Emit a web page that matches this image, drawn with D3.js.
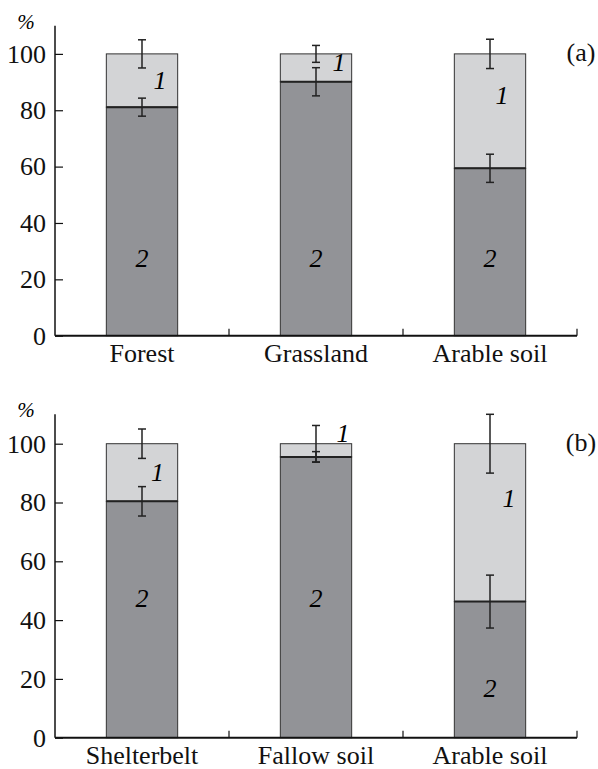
<!DOCTYPE html>
<html>
<head>
<meta charset="utf-8">
<script src="https://cdn.jsdelivr.net/npm/d3@7"></script>
<style>
  body { margin: 0; background: #fff; }
</style>
</head>
<body>
<div id="chart"></div>
<script>
// panel (a)
const catsA = ['Forest', 'Grassland', 'Arable soil'];
const darkA = [81.1, 90.1, 59.4];      // fraction 2
const darkErrA = [3.2, 5, 5];
const lightErrA = [5, 3, 5.2];         // fraction 1 (top at 100)
const lab1A = [90.7, 97.1, 85.4];
const lab2A = [27.6, 27.6, 27.6];

// panel (b)
const catsB = ['Shelterbelt', 'Fallow soil', 'Arable soil'];
const darkB = [80.4, 95.5, 46.3];
const darkErrB = [5, 1.8, 9];
const lightErrB = [5, 6.2, 10];
const lab1B = [90.5, 103.7, 81.4];
const lab2B = [47.4, 47.5, 17.1];

const W = 598, H = 769;
const serif = 'Liberation Serif';
const svg = d3.select('#chart').append('svg')
    .attr('width', W)
    .attr('height', H)
    .attr('font-family', serif);

const darkColor = '#929397', lightColor = '#d3d4d6';

function panel(cats, dark, darkErr, lightErr, lab1, lab2, lab1dx, top, bottom, tag) {
  const x = d3.scaleBand()
      .domain(cats)
      .range([55, 577])
      .paddingInner(0.59)
      .paddingOuter(0.295);

  const y = d3.scaleLinear()
      .domain([0, 110])
      .range([bottom, top]);

  const g = svg.append('g');

  // light part (fraction 1), always up to 100
  g.selectAll('rect.light').data(cats)
    .enter().append('rect')
      .attr('class', 'light')
      .attr('x', d => x(d))
      .attr('width', x.bandwidth())
      .attr('y', y(100))
      .attr('height', (d, i) => y(dark[i]) - y(100))
      .attr('fill', lightColor)
      .attr('stroke', '#333')
      .attr('stroke-width', 1);

  g.selectAll('rect.dark').data(cats)
    .enter().append('rect')
      .attr('class', 'dark')
      .attr('x', d => x(d))
      .attr('width', x.bandwidth())
      .attr('y', (d, i) => y(dark[i]))
      .attr('height', (d, i) => y(0) - y(dark[i]))
      .attr('fill', darkColor)
      .attr('stroke', '#333')
      .attr('stroke-width', 1);

  // boundary line between the two fractions
  g.selectAll('line.sep').data(cats)
    .enter().append('line')
      .attr('x1', d => x(d))
      .attr('x2', d => x(d) + x.bandwidth())
      .attr('y1', (d, i) => y(dark[i]))
      .attr('y2', (d, i) => y(dark[i]))
      .attr('stroke', '#222')
      .attr('stroke-width', 2);

  // error bars
  const errs = [];
  cats.forEach((c, i) => {
    errs.push({ c, v: dark[i], e: darkErr[i] });
    errs.push({ c, v: 100, e: lightErr[i] });
  });
  const eb = g.selectAll('g.err').data(errs).enter().append('g')
      .attr('stroke', '#222')
      .attr('stroke-width', 1.5);
  const cx = d => x(d.c) + x.bandwidth() / 2;
  eb.append('line')
      .attr('x1', cx).attr('x2', cx)
      .attr('y1', d => y(d.v + d.e)).attr('y2', d => y(d.v - d.e));
  eb.append('line')
      .attr('x1', d => cx(d) - 4).attr('x2', d => cx(d) + 4)
      .attr('y1', d => y(d.v + d.e)).attr('y2', d => y(d.v + d.e));
  eb.append('line')
      .attr('x1', d => cx(d) - 4).attr('x2', d => cx(d) + 4)
      .attr('y1', d => y(d.v - d.e)).attr('y2', d => y(d.v - d.e));

  // fraction labels
  g.selectAll('text.l1').data(cats)
    .enter().append('text')
      .attr('x', (d, i) => x(d) + x.bandwidth() / 2 + lab1dx[i])
      .attr('y', (d, i) => y(lab1[i]))
      .attr('dy', '0.35em')
      .attr('text-anchor', 'middle')
      .attr('font-style', 'italic')
      .attr('font-size', 26)
      .text('1');
  g.selectAll('text.l2').data(cats)
    .enter().append('text')
      .attr('x', d => x(d) + x.bandwidth() / 2)
      .attr('y', (d, i) => y(lab2[i]))
      .attr('dy', '0.35em')
      .attr('text-anchor', 'middle')
      .attr('font-style', 'italic')
      .attr('font-size', 26)
      .text('2');

  // y axis
  const yAxis = g.append('g')
      .attr('transform', 'translate(55,0)')
      .call(d3.axisRight(y).tickValues([0, 20, 40, 60, 80, 100]).tickSize(8).tickFormat(d3.format('d')))
      .attr('font-family', serif)
      .attr('font-size', 26);
  yAxis.select('.domain').remove();
  yAxis.selectAll('.tick line').attr('stroke', '#111').attr('stroke-width', 1.2);
  yAxis.selectAll('.tick text')
      .attr('x', -9)
      .attr('fill', '#111')
      .attr('text-anchor', 'end');
  g.append('line')
      .attr('x1', 55).attr('x2', 55)
      .attr('y1', y(110)).attr('y2', y(0))
      .attr('stroke', '#111').attr('stroke-width', 1.5);

  // x axis
  g.append('line')
      .attr('x1', 55).attr('x2', 577)
      .attr('y1', y(0)).attr('y2', y(0))
      .attr('stroke', '#111').attr('stroke-width', 2);
  const step = x.step();
  g.selectAll('line.xt').data(cats)
    .enter().append('line')
      .attr('x1', d => x(d) - x.paddingOuter() * step + step)
      .attr('x2', d => x(d) - x.paddingOuter() * step + step)
      .attr('y1', y(0)).attr('y2', y(0) - 7)
      .attr('stroke', '#111').attr('stroke-width', 1.2);
  g.selectAll('text.xl').data(cats)
    .enter().append('text')
      .attr('x', d => x(d) + x.bandwidth() / 2)
      .attr('y', y(0) + 26)
      .attr('text-anchor', 'middle')
      .attr('font-size', 26)
      .attr('fill', '#111')
      .text(d => d);

  g.append('text')
      .attr('x', 26).attr('y', top + 3)
      .attr('text-anchor', 'middle')
      .attr('font-style', 'italic')
      .attr('font-size', 21)
      .text('%');

  g.append('text')
      .attr('x', 581).attr('y', y(100) + 7)
      .attr('text-anchor', 'middle')
      .attr('font-size', 26)
      .attr('fill', '#111')
      .text(tag);
}

panel(catsA, darkA, darkErrA, lightErrA, lab1A, lab2A, [18, 23, 12], 25.7, 335.7, '(a)');
panel(catsB, darkB, darkErrB, lightErrB, lab1B, lab2B, [15.5, 27, 19], 414.3, 737.7, '(b)');
</script>
</body>
</html>
